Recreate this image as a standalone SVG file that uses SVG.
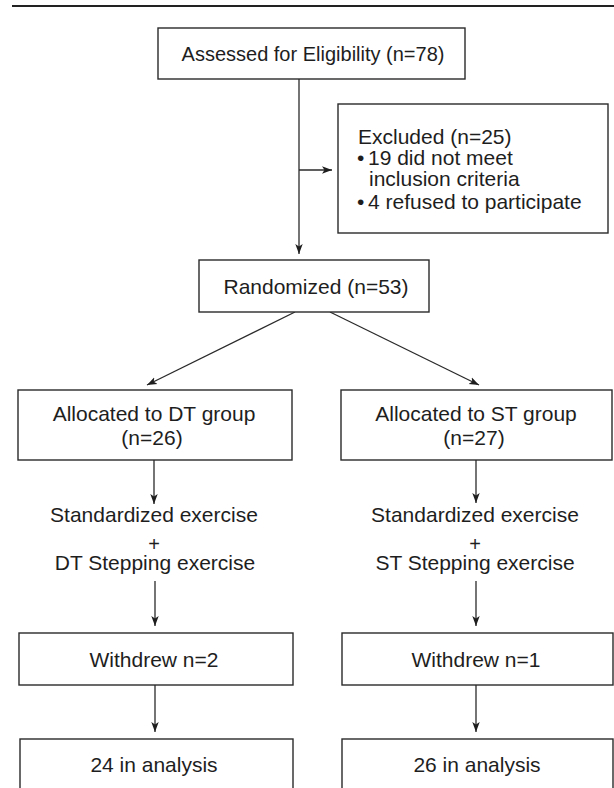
<svg xmlns="http://www.w3.org/2000/svg" width="614" height="788" viewBox="0 0 614 788">
<defs>
<style>
.box{fill:#fff;stroke:#2a2a2a;stroke-width:1.4}
.t{font-family:"Liberation Sans",Arial,Helvetica,sans-serif;font-size:21px;fill:#1e1e1e}
.c{text-anchor:middle}
.plus{font-size:20px}
.ln{stroke:#2a2a2a;stroke-width:1.3;fill:none}
</style>
<marker id="ah" markerUnits="userSpaceOnUse" markerWidth="11" markerHeight="9" refX="10" refY="4.5" orient="auto">
<path d="M0,0.8 L10,4.5 L0,8.2 L2.5,4.5 z" fill="#1e1e1e"/>
</marker>
</defs>
<rect width="614" height="788" fill="#fff"/>
<line x1="12" y1="6" x2="614" y2="6" stroke="#222" stroke-width="2.2"/>

<g id="connectors">
<line class="ln" x1="299" y1="79" x2="299" y2="254" marker-end="url(#ah)"/>
<line class="ln" x1="299" y1="170" x2="332" y2="170" marker-end="url(#ah)"/>
<line class="ln" x1="295" y1="312" x2="147" y2="385" marker-end="url(#ah)"/>
<line class="ln" x1="330" y1="312" x2="479" y2="385" marker-end="url(#ah)"/>
<line class="ln" x1="154" y1="460" x2="154" y2="504" marker-end="url(#ah)"/>
<line class="ln" x1="476" y1="460" x2="476" y2="503" marker-end="url(#ah)"/>
<line class="ln" x1="155" y1="581" x2="155" y2="626" marker-end="url(#ah)"/>
<line class="ln" x1="476" y1="581" x2="476" y2="626" marker-end="url(#ah)"/>
<line class="ln" x1="155" y1="685" x2="155" y2="732" marker-end="url(#ah)"/>
<line class="ln" x1="476" y1="685" x2="476" y2="732" marker-end="url(#ah)"/>
</g>

<g id="assessed">
<rect class="box" x="158" y="28" width="307" height="51"/>
<text class="t c" x="313" y="61" style="font-size:20px">Assessed for Eligibility (n=78)</text>
</g>

<g id="excluded">
<rect class="box" x="338" y="104" width="270" height="129"/>
<text class="t" x="358" y="144">Excluded (n=25)</text>
<text class="t"><tspan x="357" y="165">•</tspan><tspan x="368" y="165">19 did not meet</tspan></text>
<text class="t" x="369" y="186">inclusion criteria</text>
<text class="t"><tspan x="357" y="209">•</tspan><tspan x="368" y="209">4 refused to participate</tspan></text>
</g>

<g id="randomized">
<rect class="box" x="199" y="260" width="230" height="52"/>
<text class="t c" x="316" y="294">Randomized (n=53)</text>
</g>

<g id="alloc-dt">
<rect class="box" x="18" y="390" width="274" height="70"/>
<text class="t c" x="154" y="421">Allocated to DT group</text>
<text class="t c" x="152" y="445">(n=26)</text>
</g>

<g id="alloc-st">
<rect class="box" x="341" y="390" width="271" height="70"/>
<text class="t c" x="476" y="421">Allocated to ST group</text>
<text class="t c" x="474" y="445">(n=27)</text>
</g>

<g id="exercise-dt">
<text class="t c" x="154" y="522">Standardized exercise</text>
<text class="t c plus" x="154" y="551">+</text>
<text class="t c" x="155" y="570">DT Stepping exercise</text>
</g>

<g id="exercise-st">
<text class="t c" x="475" y="522">Standardized exercise</text>
<text class="t c plus" x="475" y="551">+</text>
<text class="t c" x="475" y="570">ST Stepping exercise</text>
</g>

<g id="withdrew-dt">
<rect class="box" x="19" y="633" width="274" height="52"/>
<text class="t c" x="154" y="667">Withdrew n=2</text>
</g>

<g id="withdrew-st">
<rect class="box" x="342" y="633" width="271" height="52"/>
<text class="t c" x="476" y="667">Withdrew n=1</text>
</g>

<g id="analysis-dt">
<rect class="box" x="20" y="739" width="273" height="60"/>
<text class="t c" x="154" y="772">24 in analysis</text>
</g>

<g id="analysis-st">
<rect class="box" x="342" y="739" width="271" height="60"/>
<text class="t c" x="477" y="772">26 in analysis</text>
</g>
</svg>
